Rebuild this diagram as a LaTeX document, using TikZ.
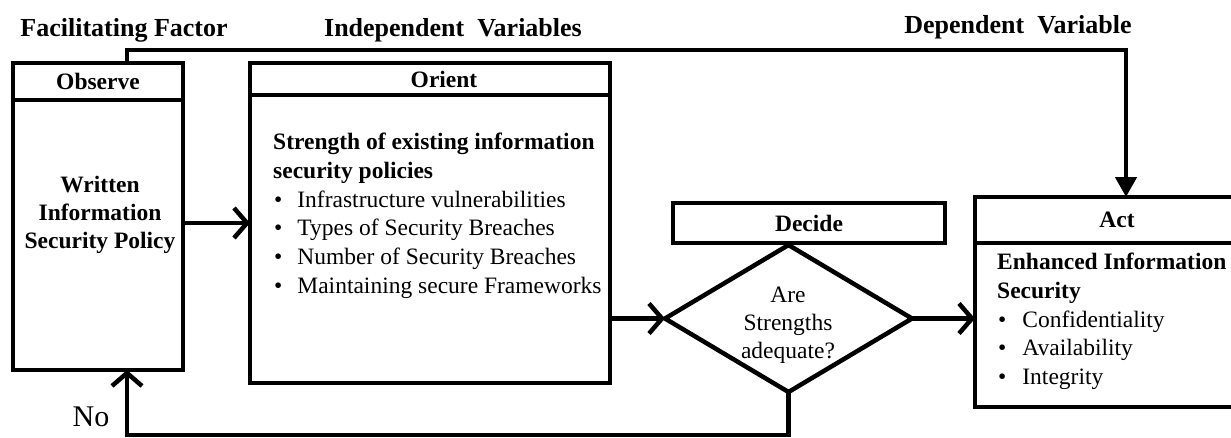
\documentclass[tikz,border=0pt]{standalone}
\usepackage{fontspec}
\setmainfont{Liberation Serif}
\usetikzlibrary{arrows.meta, positioning, shapes.geometric}

\begin{document}
\begin{tikzpicture}[x=1pt, y=-1pt,
		box/.style={draw, rectangle, line width=4.5pt, inner sep=0pt, outer sep=0pt},
		headbox/.style={box, font=\fontsize{23.5}{28}\selectfont\bfseries},
		title/.style={font=\fontsize{26}{28}\selectfont\bfseries, inner sep=0pt},
		bodytext/.style={font=\fontsize{23.5}{28.7}\selectfont, inner sep=0pt},
		flow/.style={line width=4.5pt, -{Straight Barb[length=13pt, width=30pt, line width=4.5pt]}},
		feed/.style={line width=4.5pt, -{Triangle[length=20pt, width=21pt]}}]
		
		\useasboundingbox (0,0) rectangle (1231,437);
		
		% Headings
		\node[title] (facil) at (124,30) {Facilitating Factor};
		\node[title] (indep) at (453,30) {Independent\ \ Variables};
		\node[title] (dep) at (1018,27) {Dependent\ \ Variable};
		
		% Observe
		\node[box, minimum width=170pt, minimum height=270pt] (observe) at (98,235) {};
		\node[headbox, minimum width=170pt, minimum height=37pt, anchor=south] (observehead) at (observe.north) {Observe};
		\node[bodytext, font=\fontsize{23.5}{28}\selectfont\bfseries, align=center] (observetext) at (100,215) {Written\\Information\\Security Policy};
		
		% Orient
		\node[box, minimum width=360pt, minimum height=288pt] (orient) at (430,239) {};
		\node[headbox, minimum width=360pt, minimum height=32pt, anchor=south] (orienthead) at (orient.north) {\hspace*{28pt}Orient};
		\node[bodytext, align=left, anchor=north west] (orienttext) at (273,133) {%
			\textbf{Strength of existing information}\\
			\textbf{security policies}\\
			\hspace*{1pt}\textbullet\hspace{15pt}Infrastructure vulnerabilities\\
			\hspace*{1pt}\textbullet\hspace{15pt}Types of Security Breaches\\
			\hspace*{1pt}\textbullet\hspace{15pt}Number of Security Breaches\\
			\hspace*{1pt}\textbullet\hspace{15pt}Maintaining secure Frameworks};
		
		% Decide
		\node[headbox, minimum width=272pt, minimum height=40pt] (decidehead) at (809,223) {Decide};
		\node[draw, diamond, aspect=1.68, line width=4.5pt, inner sep=0pt, outer sep=0pt,
		minimum width=247pt, minimum height=147pt] (decision) at (788.5,318.5) {};
		\node[bodytext, align=center, font=\fontsize{23.5}{28}\selectfont] (decisiontext) at (788,325) {Are\\Strengths\\adequate?};
		
		% Act
		\node[box, minimum width=284pt, minimum height=164pt] (act) at (1117,325) {};
		\node[headbox, minimum width=284pt, minimum height=46pt, anchor=south] (acthead) at (act.north) {Act};
		\node[bodytext, align=left, anchor=north west] (acttext) at (997,253) {%
			\textbf{Enhanced Information}\\
			\textbf{Security}\\
			\hspace*{1pt}\textbullet\hspace{16pt}Confidentiality\\
			\hspace*{1pt}\textbullet\hspace{16pt}Availability\\
			\hspace*{1pt}\textbullet\hspace{16pt}Integrity};
		
		% Connectors
		\coordinate (topleft) at (127,50);
		\coordinate (topright) at (1126,50);
		\coordinate (nobend) at (127,435);
		
		\draw[flow] ([yshift=12pt]observe.east) -- ([yshift=12pt]observe.east -| orient.west);
		\draw[flow] (orient.east |- decision.west) -- (decision.west);
		\draw[flow] (decision.east) -- (decision.east -| act.west);
		\draw[feed] (observehead.north -| topleft) -- (topleft) -- (topright) -- (topright |- acthead.north);
		\draw[flow] (decision.south) |- (nobend) -- (nobend |- observe.south);
		
		% No label
		\node[bodytext, font=\fontsize{30}{30}\selectfont] (nolabel) at (91,417) {No};
		
\end{tikzpicture}
\end{document}
